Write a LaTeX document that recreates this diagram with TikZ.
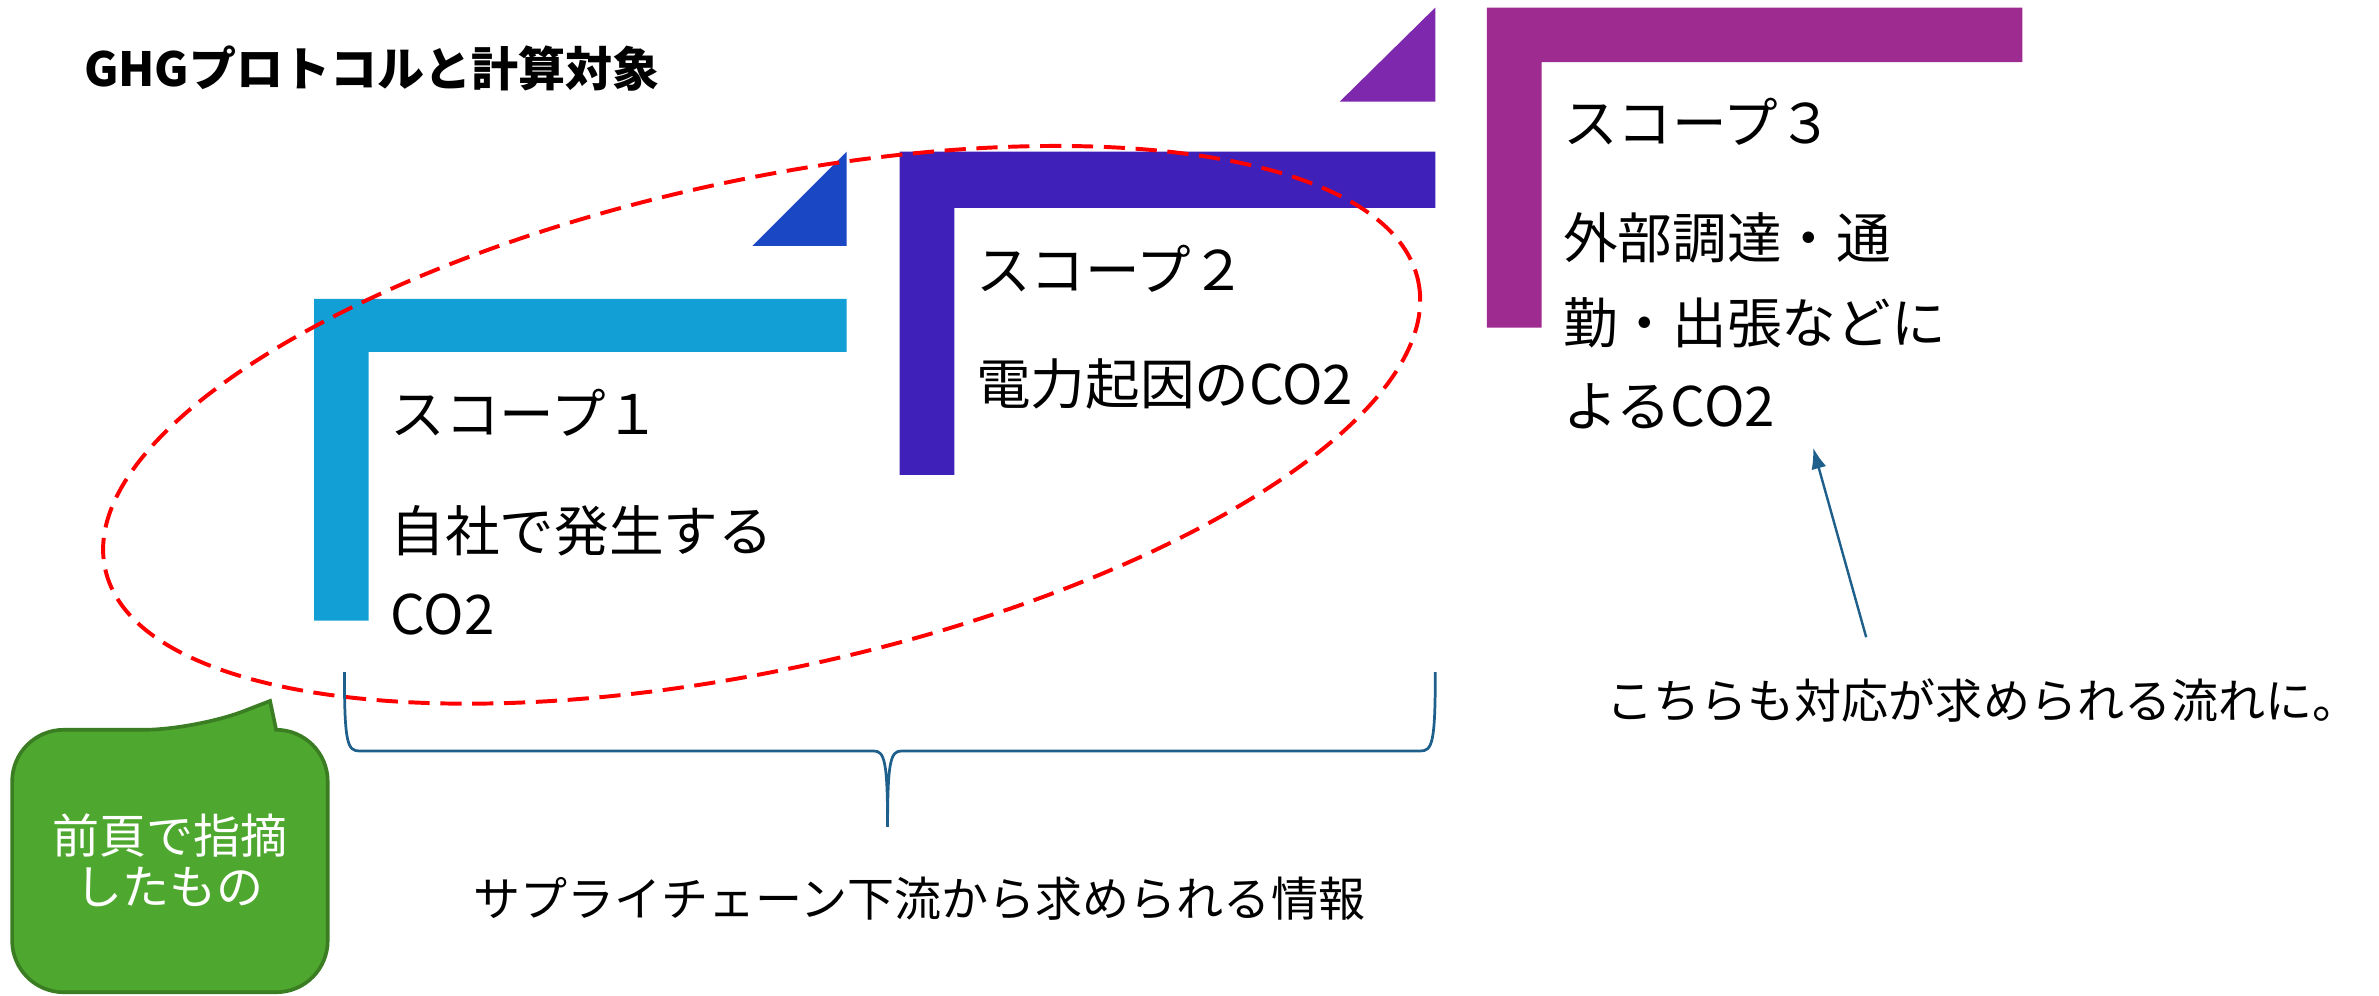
\documentclass[tikz,border=0pt]{standalone}
\usepackage{fontspec}
\newfontfamily\jp{Noto Sans CJK JP}
\usetikzlibrary{arrows.meta}
\definecolor{cone}{HTML}{129FD6}
\definecolor{tone}{HTML}{1A47C4}
\definecolor{ctwo}{HTML}{3F20B8}
\definecolor{ttwo}{HTML}{7D28AD}
\definecolor{cthree}{HTML}{9E2B90}
\definecolor{bracec}{HTML}{1F5F8B}
\definecolor{gfill}{HTML}{4EA72E}
\definecolor{gdraw}{HTML}{3B7D23}
\begin{document}
\begin{tikzpicture}[x=0.5pt,y=-0.5pt,
  scopetxt/.style={anchor=west,inner sep=0pt,font=\jp\fontsize{18pt}{22pt}\selectfont},
  midtxt/.style={inner sep=0pt,font=\jp\fontsize{15.5pt}{19pt}\selectfont},
  redash/.style={draw=red,line width=1.3pt,dash pattern=on 7pt off 3.5pt},
  bracel/.style={draw=bracec,line width=0.9pt},
  arrowl/.style={draw=bracec,line width=0.8pt,-{Latex[length=7pt,width=5pt]}}]
\useasboundingbox (0,0) rectangle (1568,656);
% title
\node[anchor=west,inner sep=0pt,font=\jp\bfseries\fontsize{15.5pt}{19pt}\selectfont] (title) at (55,45) {GHGプロトコルと計算対象};
% scope shapes
\fill[cone] (207,197) -- (558,197) -- (558,232) -- (243,232) -- (243,409) -- (207,409) -- cycle;
\fill[tone] (558,100) -- (558,162) -- (496,162) -- cycle;
\fill[ctwo] (593,100) -- (946,100) -- (946,137) -- (629,137) -- (629,313) -- (593,313) -- cycle;
\fill[ttwo] (946,5) -- (946,67) -- (883,67) -- cycle;
\fill[cthree] (980,5) -- (1333,5) -- (1333,41) -- (1016,41) -- (1016,216) -- (980,216) -- cycle;
% scope texts
\node[scopetxt] (s1a) at (257,272) {スコープ１};
\node[scopetxt] (s1b) at (257,350) {自社で発生する};
\node[scopetxt] (s1c) at (257,405) {CO2};
\node[scopetxt] (s2a) at (643,177) {スコープ２};
\node[scopetxt] (s2b) at (643,253) {電力起因のCO2};
\node[scopetxt] (s3a) at (1030,80) {スコープ３};
\node[scopetxt] (s3b) at (1030,157) {外部調達・通};
\node[scopetxt] (s3c) at (1030,213) {勤・出張などに};
\node[scopetxt] (s3d) at (1030,268) {よるCO2};
% red dashed ellipse
\begin{scope}[shift={(502,280)},rotate=12.4]
\draw[redash] (0,0) ellipse [x radius=443, y radius=161];
\end{scope}
% brace
\coordinate (bl) at (227,443);
\coordinate (bm) at (585,545);
\coordinate (br) at (946,443);
\draw[bracel] (bl) .. controls (227,490) and (229,495) .. (237,495) -- (576,495)
  .. controls (583,495) and (585,502) .. (bm)
  .. controls (585,502) and (587,495) .. (594,495) -- (936,495)
  .. controls (944,495) and (946,490) .. (br);
\node[midtxt] (down) at (606,592) {サプライチェーン下流から求められる情報};
% right note and arrow
\node[midtxt] (note) at (1307,462) {こちらも対応が求められる流れに。};
\coordinate (as) at (1230,420);
\coordinate (ae) at (1195,295);
\draw[arrowl] (as) -- (ae);
% callout
\draw[fill=gfill,draw=gdraw,line width=1.2pt]
  (8,560) [rounded corners=17pt] -- (8,481) -- (129,481) [sharp corners] -- (178,462) -- (182,481)
  [rounded corners=17pt] -- (216,481) -- (216,654) -- (8,654) -- cycle;
\node[midtxt,text=white,align=center,font=\jp\fontsize{15.5pt}{17pt}\selectfont] (call) at (112,567) {前頁で指摘\\したもの};
\end{tikzpicture}
\end{document}
